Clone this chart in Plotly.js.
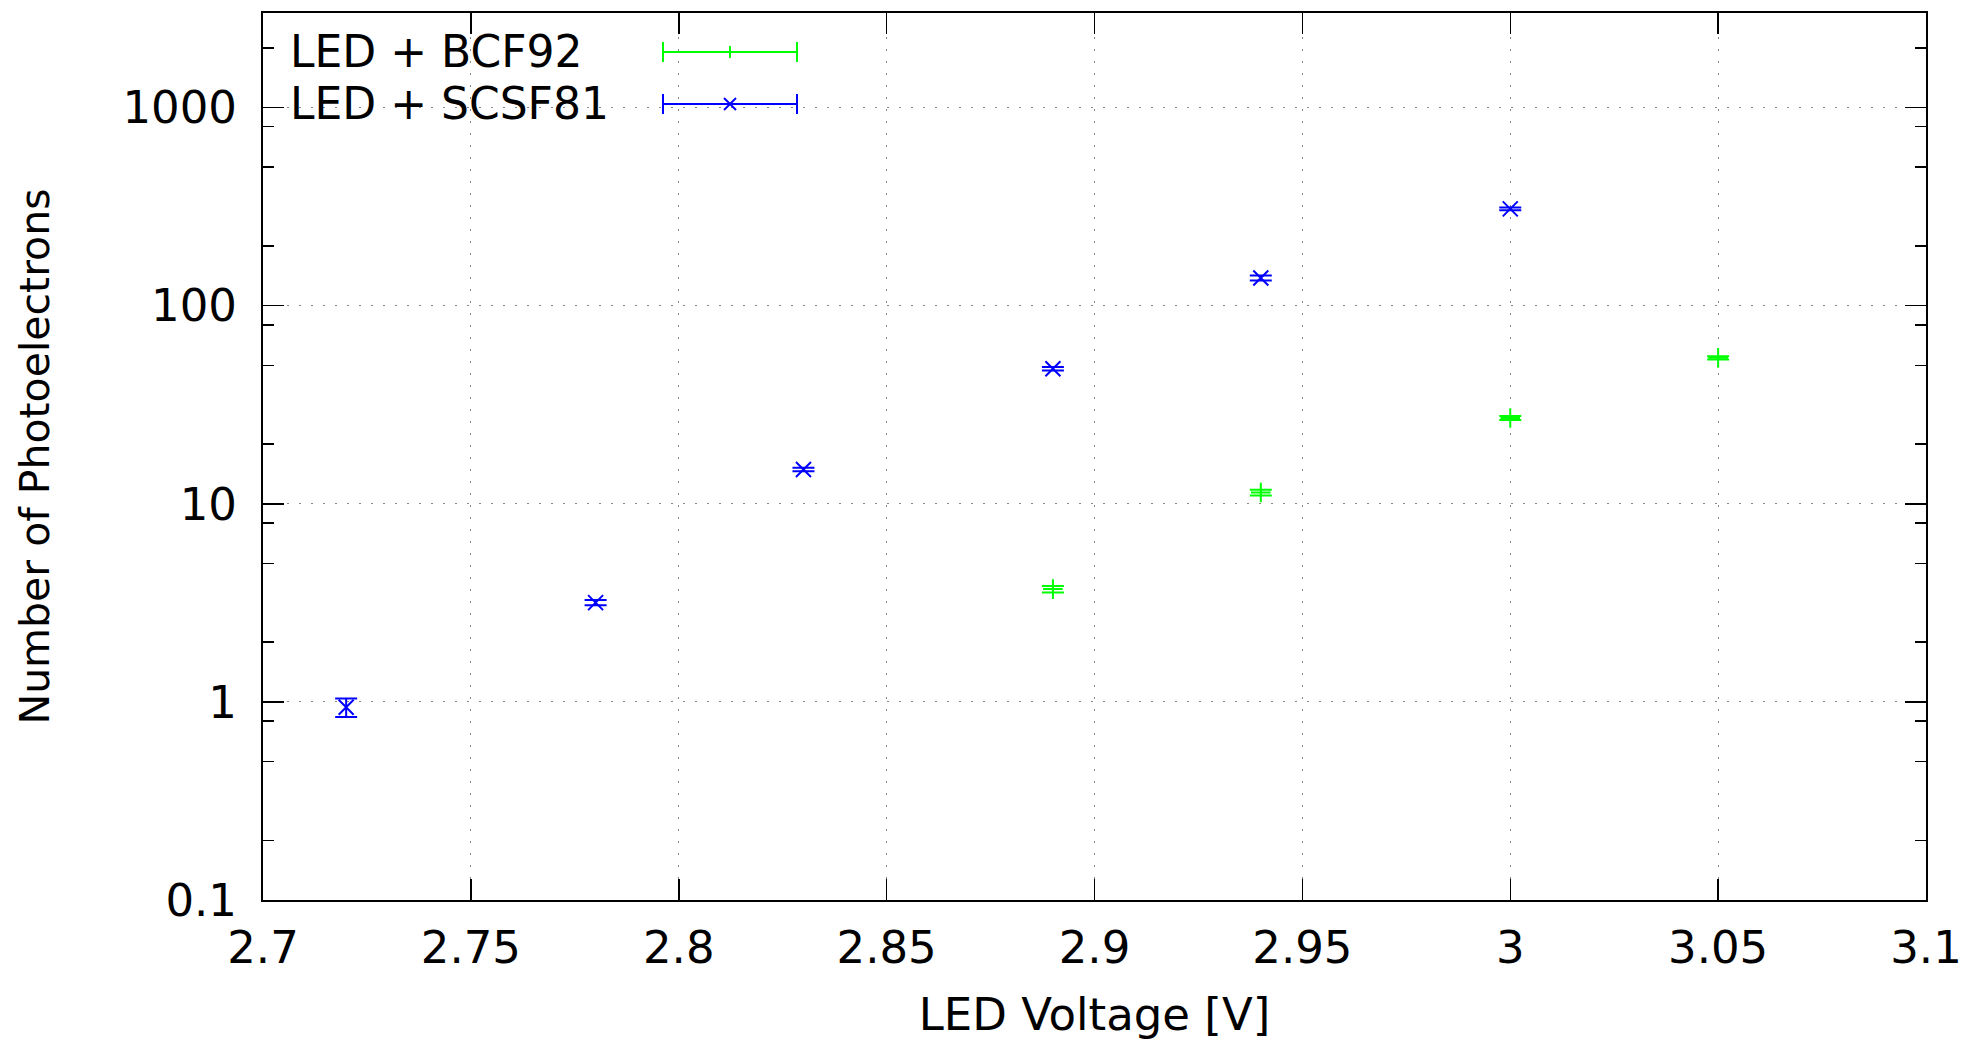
<!DOCTYPE html>
<html><head><meta charset="utf-8">
<script src="https://cdn.plot.ly/plotly-3.0.1.min.js"></script>
<style>html,body{margin:0;padding:0;background:#fff;}#chart{width:1969px;height:1041px;}</style>
</head><body><div id="chart"></div>
<script>
// ---- data ----
const seriesNames = ['LED + BCF92', 'LED + SCSF81'];
const bcfVoltage = [2.89, 2.94, 3.00, 3.05];
const bcfPE      = [3.71, 11.4, 27.1, 54.5];
const bcfErr     = [0.14, 0.38, 0.6, 1.1];
const scsfVoltage = [2.72, 2.78, 2.83, 2.89, 2.94, 3.00];
const scsfPE      = [0.94, 3.17, 14.9, 48, 138, 308];
const scsfErr     = [0.10, 0.10, 0.3, 1.0, 4, 5];
const xTickVals = [2.7, 2.75, 2.8, 2.85, 2.9, 2.95, 3.0, 3.05, 3.1];
const xTickText = ['2.7', '2.75', '2.8', '2.85', '2.9', '2.95', '3', '3.05', '3.1'];
const yTickVals = [0.1, 1, 10, 100, 1000];
const yTickText = ['0.1', '1', '10', '100', '1000'];
const yMinorVals = [0.2, 0.5, 0.8, 2, 5, 8, 20, 50, 80, 200, 500, 800, 2000];
const xRange = [2.7, 3.1];
const yRange = [0.1, 3000];

// ---- styling ----
const GREEN = '#00ff00', BLUE = '#0000ff';
const FONT = 'DejaVu Sans, sans-serif';
const FS = 45, FS_YT = 41, FS_KEY = 44;
const W = 1969, H = 1041;
const M = {l: 263, r: 43, t: 13, b: 141};
const PW = W - M.l - M.r, PH = H - M.t - M.b;
const px = v => v / PW, py = v => v / PH;

const traces = [
  {
    type: 'scatter', mode: 'markers', name: seriesNames[0],
    x: bcfVoltage, y: bcfPE,
    error_y: {type: 'data', array: bcfErr, visible: true, color: GREEN, thickness: 2, width: 11},
    marker: {symbol: 'cross-thin-open', size: 14, color: GREEN, line: {color: GREEN, width: 2}},
    showlegend: false
  },
  {
    type: 'scatter', mode: 'markers', name: seriesNames[1],
    x: scsfVoltage, y: scsfPE,
    error_y: {type: 'data', array: scsfErr, visible: true, color: BLUE, thickness: 2, width: 11},
    marker: {symbol: 'x-thin-open', size: 15, color: BLUE, line: {color: BLUE, width: 2}},
    showlegend: false
  }
];

// manual gnuplot-style key (text left, sample right)
const keyTextX = px(25);
const keyRows = [PH - 39, PH - 91].map(v => v / PH);
const sampleX0 = px(400), sampleX1 = px(534), sampleXc = px(467);
const capH = py(10);
const colors = [GREEN, BLUE];
const shapes = [
  {type: 'rect', xref: 'paper', yref: 'paper', x0: px(27), x1: px(559), y0: py(PH - 114), y1: 1,
   fillcolor: '#ffffff', line: {width: 0}, layer: 'between'}
];
keyRows.forEach((yy, i) => {
  const c = colors[i];
  const ln = {color: c, width: 2};
  shapes.push({type: 'line', xref: 'paper', yref: 'paper', x0: sampleX0, x1: sampleX1, y0: yy, y1: yy, line: ln, layer: 'above'});
  shapes.push({type: 'line', xref: 'paper', yref: 'paper', x0: sampleX0, x1: sampleX0, y0: yy - capH, y1: yy + capH, line: ln, layer: 'above'});
  shapes.push({type: 'line', xref: 'paper', yref: 'paper', x0: sampleX1, x1: sampleX1, y0: yy - capH, y1: yy + capH, line: ln, layer: 'above'});
  if (i === 0) {
    shapes.push({type: 'line', xref: 'paper', yref: 'paper', x0: sampleXc, x1: sampleXc, y0: yy - py(6), y1: yy + py(6), line: ln, layer: 'above'});
  } else {
    shapes.push({type: 'line', xref: 'paper', yref: 'paper', x0: sampleXc - px(6), x1: sampleXc + px(6), y0: yy - py(6), y1: yy + py(6), line: ln, layer: 'above'});
    shapes.push({type: 'line', xref: 'paper', yref: 'paper', x0: sampleXc - px(6), x1: sampleXc + px(6), y0: yy + py(6), y1: yy - py(6), line: ln, layer: 'above'});
  }
});
const annotations = keyRows.map((yy, i) => ({
  xref: 'paper', yref: 'paper', x: keyTextX, y: yy, xanchor: 'left', yanchor: 'middle',
  text: seriesNames[i], showarrow: false, font: {family: FONT, size: FS_KEY, color: '#000'}
}));

const axisCommon = {
  showline: true, linecolor: '#000', linewidth: 2, mirror: 'allticks',
  ticks: 'inside', ticklen: 21, tickwidth: 1.5, tickcolor: '#000',
  showgrid: true, gridcolor: '#888888', gridwidth: 1.2, griddash: '1.5px,10.5px',
  zeroline: false, tickfont: {family: FONT, size: FS, color: '#000'}
};

const layout = {
  width: W, height: H, margin: M,
  paper_bgcolor: '#fff', plot_bgcolor: '#fff',
  font: {family: FONT, size: FS, color: '#000'},
  xaxis: Object.assign({}, axisCommon, {
    range: xRange, tickmode: 'array', tickvals: xTickVals, ticktext: xTickText,
    ticklabelstandoff: 7,
    title: {text: 'LED Voltage [V]', font: {family: FONT, size: FS, color: '#000'}, standoff: 28}
  }),
  yaxis: Object.assign({}, axisCommon, {
    type: 'log', range: yRange.map(Math.log10), tickmode: 'array', tickvals: yTickVals, ticktext: yTickText,
    ticklabelstandoff: 15,
    minor: {tickmode: 'array', tickvals: yMinorVals, ticks: 'inside', ticklen: 11, tickwidth: 1.5, tickcolor: '#000', showgrid: false},
    title: {text: 'Number of Photoelectrons', font: {family: FONT, size: FS_YT, color: '#000'}, standoff: 60}
  }),
  shapes: shapes, annotations: annotations, showlegend: false
};

Plotly.newPlot('chart', traces, layout, {displayModeBar: false, staticPlot: true});
</script></body></html>
